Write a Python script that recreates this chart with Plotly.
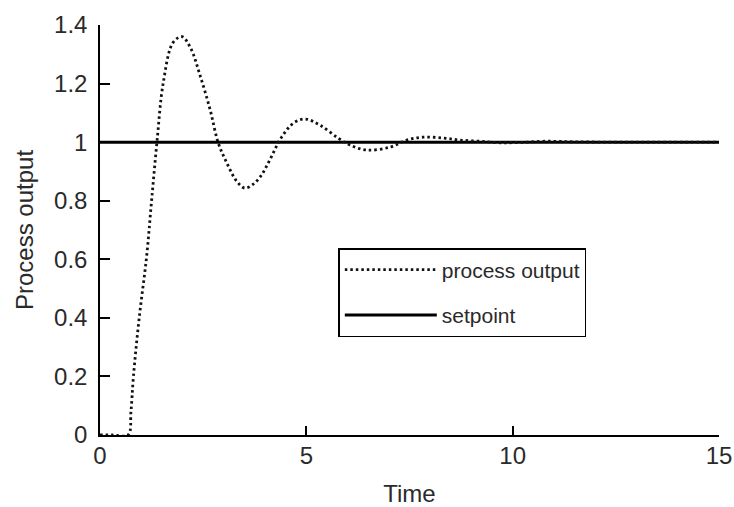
import plotly.graph_objects as go

# Data
t_out = [0.0, 0.3, 0.68, 0.75, 0.81, 0.95, 1.13, 1.25, 1.38, 1.53, 1.77, 1.99, 2.2, 2.42, 2.67,
         2.86, 3.07, 3.32, 3.51, 3.7, 3.9, 4.1, 4.40, 4.69, 4.97, 5.33, 5.77, 6.06, 6.46, 7.03,
         7.43, 7.83, 8.32, 8.72, 9.2, 9.7, 10.2, 10.8, 11.5, 12.5, 13.5, 15.0]
y_out = [0.0, 0.0, 0.0, 0.08, 0.2, 0.40, 0.61, 0.80, 1.0, 1.2, 1.34, 1.36, 1.32, 1.23, 1.11,
         1.0, 0.93, 0.865, 0.843, 0.855, 0.885, 0.935, 1.017, 1.065, 1.079, 1.058, 1.014, 0.99, 0.973, 0.983,
         1.007, 1.017, 1.014, 1.007, 1.003, 0.998, 0.999, 1.003, 1.001, 1.0, 1.0, 1.0]
t_set = [0.0, 15.0]
y_set = [1.0, 1.0]

x_ticks = [0, 5, 10, 15]
y_ticks = [0, 0.2, 0.4, 0.6, 0.8, 1.0, 1.2, 1.4]
y_tick_text = ["0", "0.2", "0.4", "0.6", "0.8", "1", "1.2", "1.4"]

FONT = "Liberation Sans, Arial, sans-serif"

fig = go.Figure()
fig.add_trace(go.Scatter(x=t_set, y=y_set, mode="lines", name="setpoint",
                         line=dict(color="black", width=3), legendrank=2))
fig.add_trace(go.Scatter(x=t_out, y=y_out, mode="lines", name="process output",
                         line=dict(color="#111111", width=2.8, dash="2.5px,3px", shape="spline", smoothing=1.0),
                         legendrank=1))

fig.update_layout(
    width=734, height=507,
    margin=dict(l=100, r=15, t=25, b=72),
    paper_bgcolor="white", plot_bgcolor="white",
    font=dict(family=FONT, size=24, color="#2a2a2a"),
    showlegend=True,
    legend=dict(x=0.385, y=0.456, xanchor="left", yanchor="top",
                bordercolor="black", borderwidth=1.5, bgcolor="white",
                font=dict(size=21, color="#2a2a2a"), tracegroupgap=15, itemwidth=92),
    xaxis=dict(range=[0, 15], tickvals=x_ticks, ticks="inside", ticklen=9, tickwidth=1.5,
               tickcolor="black", showline=True, linecolor="black", linewidth=1.5,
               showgrid=False, zeroline=False, ticklabelstandoff=-2, automargin=False,
               tickfont=dict(size=24),
               title=dict(text="Time", standoff=28, font=dict(size=24))),
    yaxis=dict(range=[0, 1.4], tickvals=y_ticks, ticktext=y_tick_text, ticks="inside", ticklen=10,
               tickwidth=1.5, tickcolor="black", showline=True, linecolor="black", linewidth=1.5,
               showgrid=False, zeroline=False, ticklabelstandoff=6, automargin=False,
               tickfont=dict(size=24),
               title=dict(text="Process output", standoff=14, font=dict(size=24))),
)
for i, tr in enumerate(fig.data):
    tr.legendgroup = "g%d" % i

fig.write_html("out.html")
